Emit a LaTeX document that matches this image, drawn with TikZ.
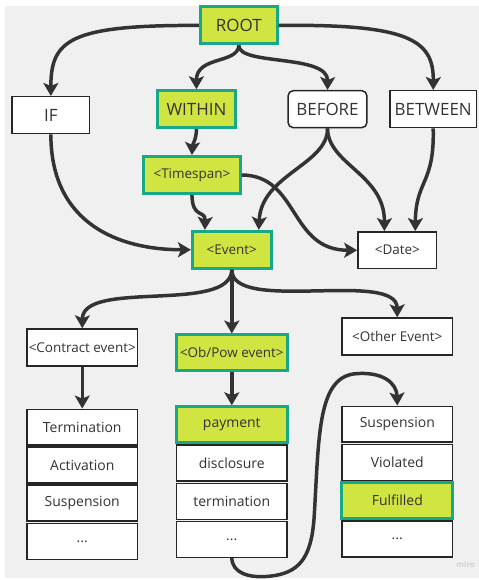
\documentclass[tikz,border=0pt]{standalone}
\usepackage{fontspec}
\setmainfont{Open Sans}
\usetikzlibrary{arrows.meta,calc}
\definecolor{bg}{HTML}{F0F0F0}
\definecolor{lime}{HTML}{D0E442}
\definecolor{teal2}{HTML}{17A887}
\definecolor{ink}{HTML}{333333}
\begin{document}
\begin{tikzpicture}[x=1pt,y=-1pt,
  box/.style={draw=black!85, line width=1.5pt, fill=white, minimum height=37pt, inner sep=0pt, text=ink, font=\fontsize{14}{16}\selectfont},
  hl/.style={draw=teal2, line width=3pt, fill=lime},
  big/.style={font=\fontsize{17}{20}\selectfont},
  med/.style={font=\fontsize{13.5}{15}\selectfont},
  conn/.style={draw=ink, line width=3.5pt, -{Stealth[length=13pt,width=15pt,inset=3pt]}},
  plain/.style={draw=ink, line width=3.5pt}
]
\fill[white] (0,0) rectangle (480,580);
\fill[bg] (5,6) rectangle (480,580);

% top level
\node[box,hl,big,minimum width=77pt] (root) at (239.5,25.5) {ROOT};
\node[box,big,minimum width=78pt] (if) at (51,115.5) {IF};
\node[box,hl,big,minimum width=78pt] (within) at (197,109.5) {WITHIN};
\node[box,big,minimum width=79pt,rounded corners=5pt] (before) at (328.5,109.5) {BEFORE};
\node[box,big,minimum width=87pt] (between) at (434.5,109.5) {BETWEEN};

\node[box,hl,med,minimum width=97pt] (timespan) at (192.5,175.5) {<Timespan>};
\node[box,hl,med,minimum width=79pt] (event) at (232.5,250.5) {<Event>};
\node[box,med,minimum width=79pt] (date) at (398.5,251) {<Date>};

\node[box,med,minimum width=111pt] (contract) at (82.5,348.5) {<Contract event>};
\node[box,hl,med,minimum width=111pt,minimum height=36pt] (obpow) at (232.5,354) {<Ob/Pow event>};
\node[box,med,minimum width=111pt] (other) at (398.5,337.5) {<Other Event>};

% stacks
\tikzset{row/.style={box,minimum width=111pt,minimum height=36pt}}
\node[row] (l1) at (82.5,428.5) {Termination};
\node[row] (l2) at (82.5,466.5) {Activation};
\node[row] (l3) at (82.5,504.5) {Suspension};
\node[row] (l4) at (82.5,543) {...};

\node[row,hl] (m1) at (232.5,426) {payment};
\node[row] (m2) at (232.5,464.5) {disclosure};
\node[row] (m3) at (232.5,503) {termination};
\node[row] (m4) at (232.5,541) {...};

\node[row] (r1) at (398.5,425.5) {Suspension};
\node[row] (r2) at (398.5,464) {Violated};
\node[row,hl] (r3) at (398.5,502) {Fulfilled};
\node[row] (r4) at (398.5,540.5) {...};

% connectors
\draw[conn] (root.west) .. controls (70,25) and (51,40) .. (if.north);
\draw[conn] (root.east) .. controls (410,24) and (435,40) .. (between.north);
\draw[conn] (root.south) .. controls (239,64) and (197,56) .. (within.north);
\draw[conn] (root.south) .. controls (239,66) and (329,54) .. (before.north);
\draw[conn] (within.south) .. controls (197,140) and (193,145) .. (timespan.north);
\draw[conn] (if.south) .. controls (51,225) and (120,250.5) .. (event.west);
\draw[conn] (timespan.south) .. controls (193,220) and (206,210) .. ($(event.north)+(-27,0)$);
\draw[conn] (timespan.east) .. controls (300,176) and (290,251) .. (date.west);
\draw[conn] (before.south) .. controls (329,165) and (262,175) .. ($(event.north)+(27,0)$);
\draw[conn] (before.south) .. controls (329,165) and (386,175) .. ($(date.north)+(-13,0)$);
\draw[conn] (between.south) .. controls (436,185) and (417,180) .. ($(date.north)+(18,0)$);
\draw[conn] (event.south) .. controls (232,315) and (83,280) .. (contract.north);
\draw[conn] (event.south) -- (obpow.north);
\draw[conn] (event.south) .. controls (232,315) and (398,270) .. (other.north);
\draw[conn] (contract.south) -- (l1.north);
\draw[conn] (obpow.south) -- (m1.north);
\draw[conn] (m4.south) .. controls (233,575) and (250,580) .. (270,578)
  .. controls (300,575) and (312,560) .. (315,520)
  .. controls (320,440) and (318,380) .. (355,375)
  .. controls (385,372) and (398,385) .. (r1.north);

\node[text=black!18, font=\fontsize{8}{9}\selectfont\bfseries] (miro) at (467,566) {miro};
\end{tikzpicture}
\end{document}
